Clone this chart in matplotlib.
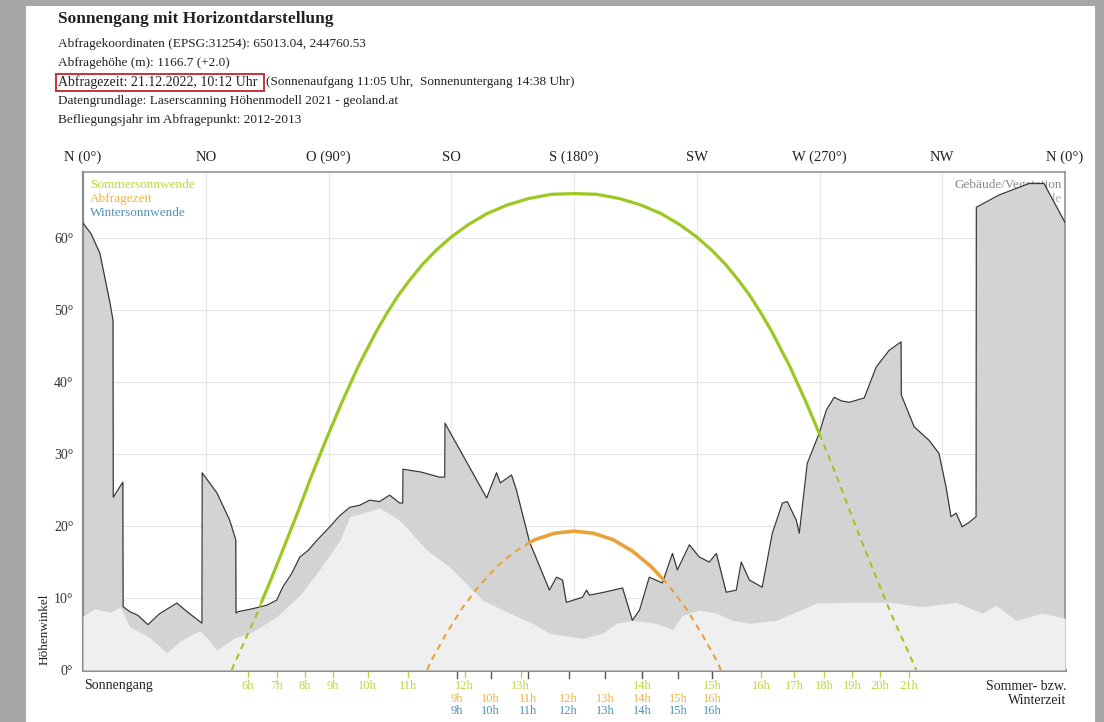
import matplotlib
matplotlib.use('Agg')
import matplotlib.pyplot as plt
from matplotlib.patches import Rectangle
import numpy as np

plt.rcParams['font.family'] = ['Liberation Serif', 'DejaVu Serif']

# --- data (azimuth in degrees, altitude in degrees) ---
dir_labels = ['N (0°)', 'NO', 'O (90°)', 'SO', 'S (180°)', 'SW', 'W (270°)', 'NW', 'N (0°)']

# Gebaeude/Vegetation (outlined, darker)
dark_az = [0, 3.0, 6.2, 9.9, 11.0, 11.1, 14.6, 14.7, 17.2, 20.1, 23.8, 28.0, 34.4, 38.5, 43.6,
           43.7, 49.1, 53.8, 56.0, 56.1, 56.8, 62.0, 67.4, 71.0, 73.2, 76.5, 79.5, 82.5, 85.7,
           90.5, 94.0, 97.8, 101.5, 105.1, 108.7, 112.4, 116.1, 117.2, 117.3, 124.0, 130.7,
           132.6, 132.7, 148.0, 149.1, 151.6, 153.0, 154.5, 157.1, 158.9, 163.7, 171.0,
           173.6, 175.8, 177.2, 183.1, 184.6, 185.7, 191.0, 197.8, 201.4, 204.0, 207.6,
           212.4, 216.1, 217.9, 222.3, 225.9, 229.6, 232.2, 235.8, 239.5, 241.3, 244.3,
           249.0, 252.7, 256.4, 258.2, 261.5, 262.6, 265.5, 269.9, 272.5, 275.4, 278.0,
           280.9, 286.4, 290.8, 295.5, 299.9, 300.0, 304.7, 310.2, 313.8, 316.4, 318.2,
           320.1, 322.3, 324.8, 327.4, 327.5, 335.8, 346.8, 352.3, 360]
dark_alt = [62.1, 60.6, 57.9, 51.0, 48.6, 24.0, 26.1, 8.8, 8.1, 7.6, 6.3, 7.8, 9.3, 8.0, 6.5,
            27.4, 24.6, 20.8, 18.1, 7.9, 8.1, 8.5, 9.0, 9.7, 11.5, 13.4, 15.7, 16.6, 18.0,
            19.9, 21.4, 22.6, 22.9, 23.6, 23.4, 24.3, 23.2, 23.2, 27.9, 27.5, 26.8,
            26.8, 34.3, 23.9, 25.0, 27.4, 26.0, 26.4, 27.1, 25.0, 17.8, 11.1,
            12.9, 12.5, 9.4, 10.1, 11.1, 10.4, 10.8, 11.4, 6.9, 8.3, 12.9,
            12.1, 16.2, 13.9, 17.4, 15.7, 15.0, 16.2, 10.8, 11.1, 15.0, 12.5,
            11.5, 19.0, 23.2, 23.4, 20.8, 19.0, 28.7, 32.9, 36.1, 37.9, 37.4,
            37.2, 37.8, 42.1, 44.4, 45.6, 38.2, 33.8, 31.9, 30.1, 25.4, 21.3,
            21.8, 19.9, 20.5, 21.3, 64.3, 66.0, 67.6, 67.6, 62.2]

# Gelaende (light)
light_az = [0, 4.4, 9.9, 13.6, 17.2, 24.5, 30.8, 35.5, 42.8, 46.5, 49.1, 55.7, 61.2, 71.0,
            79.5, 86.8, 94.1, 97.8, 108.8, 116.1, 126.0, 134.4, 146.5, 156.4, 164.8, 171.0,
            183.1, 190.4, 195.6, 201.4, 210.2, 216.1, 219.7, 226.0, 232.2, 238.0, 244.3,
            254.2, 268.8, 280.9, 295.5, 307.6, 320.1, 329.6, 334.7, 342.0, 351.6, 360]
light_alt = [7.5, 8.5, 8.0, 8.8, 6.0, 4.5, 2.4, 4.0, 5.5, 4.0, 2.8, 4.5, 5.1, 7.4,
             10.4, 14.0, 18.0, 21.3, 22.5, 20.8, 16.7, 14.3, 9.7, 7.9, 6.5, 5.1,
             4.4, 5.1, 6.5, 6.9, 6.5, 5.6, 7.6, 8.3, 7.9, 6.9, 6.5,
             6.9, 9.3, 9.4, 9.4, 8.8, 9.4, 7.9, 9.0, 6.9, 7.9, 7.2]

# sun paths
summer_az = [54.5, 58.4, 63.4, 65.5, 68.5, 73.6, 78.7, 83.8, 89.1, 94.8, 100.9, 107.6, 111.3,
             115.3, 119.6, 124.3, 129.4, 135.1, 141.3, 148.0, 155.4, 163.2, 171.7, 180.0,
             188.3, 196.8, 204.6, 212.0, 218.7, 224.9, 230.6, 235.7, 240.4, 244.7, 248.7,
             252.4, 259.1, 265.2, 270.0, 270.9, 276.2, 281.3, 286.4, 291.5, 296.6, 301.6, 305.5]
summer_alt = [0, 3.3, 7.5, 9.5, 12.2, 17.0, 21.9, 27.0, 32.0, 37.1, 42.2, 47.1, 49.5,
              51.9, 54.1, 56.3, 58.3, 60.2, 61.9, 63.4, 64.6, 65.5, 66.1, 66.2,
              66.1, 65.5, 64.6, 63.4, 61.9, 60.2, 58.3, 56.3, 54.1, 51.9, 49.5,
              47.1, 42.2, 37.1, 32.8, 32.0, 27.0, 21.9, 17.0, 12.2, 7.5, 3.3, 0]
summer_visible = (65.5, 270.0)

query_az = [126.2, 127.4, 133.1, 139.0, 145.2, 151.8, 158.5, 163.7, 165.6, 172.8, 180.0,
            187.2, 194.4, 201.5, 208.2, 212.4, 214.8, 221.0, 226.9, 232.6, 233.8]
query_alt = [0, 1.1, 5.0, 8.6, 11.7, 14.4, 16.5, 17.7, 18.1, 19.0, 19.3,
             19.0, 18.1, 16.5, 14.4, 12.7, 11.7, 8.6, 5.0, 1.1, 0]
query_visible = (163.7, 212.4)

summer_hours = ['6h', '7h', '8h', '9h', '10h', '11h', '12h', '13h', '14h', '15h', '16h',
                '17h', '18h', '19h', '20h', '21h']
summer_hour_az = [60.4, 71.0, 81.3, 91.6, 104.4, 119.0, 139.9, 160.4, 205.1, 230.7, 248.7,
                  260.7, 271.7, 282.0, 292.2, 302.9]
winter_hours = ['9h', '10h', '11h', '12h', '13h', '14h', '15h', '16h']
winter_hour_az = [137.0, 149.4, 163.3, 178.0, 191.5, 205.1, 218.3, 230.7]

# colours
green = '#9cc823'
green_txt = '#c2d43c'
orange = '#e9a23a'
orange_txt = '#f0b444'
blue_txt = '#4f93b2'

W, H = 1104, 722
fig = plt.figure(figsize=(W / 100, H / 100), dpi=100, facecolor='#a7a7a7')
fig.patches.append(Rectangle((26 / W, 0), (1095 - 26) / W, (H - 6) / H,
                             transform=fig.transFigure, facecolor='white',
                             edgecolor='none', zorder=-10))


def fx(px):
    return px / W


def fy(py):
    return 1 - py / H


# header
fig.text(fx(58), fy(19), 'Sonnengang mit Horizontdarstellung', fontsize=12.5,
         fontweight='bold', color='#222222', va='center')
info = ['Abfragekoordinaten (EPSG:31254): 65013.04, 244760.53',
        'Abfragehöhe (m): 1166.7 (+2.0)',
        None,
        'Datengrundlage: Laserscanning Höhenmodell 2021 - geoland.at',
        'Befliegungsjahr im Abfragepunkt: 2012-2013']
for i, line in enumerate(info):
    if line:
        fig.text(fx(58), fy(44 + 19 * i), line, fontsize=9.5, color='#222222', va='center')
fig.text(fx(58), fy(82), 'Abfragezeit: 21.12.2022, 10:12 Uhr', fontsize=10, color='#222222',
         va='center')
fig.patches.append(Rectangle((fx(56), fy(91)), (264 - 56) / W, 17 / H,
                             transform=fig.transFigure, facecolor='none',
                             edgecolor='#c8323c', lw=1.4))
fig.text(fx(266), fy(82), '(Sonnenaufgang 11:05 Uhr,  Sonnenuntergang 14:38 Uhr)',
         fontsize=9.5, color='#222222', va='center')

ax = fig.add_axes([fx(83), 1 - 670 / H, (1065 - 83) / W, (670 - 172) / H])
ax.set_xlim(0, 360)
ax.set_ylim(0, 69.2)

ax.set_xticks(np.arange(0, 361, 45))
ax.set_xticklabels(dir_labels, fontsize=10.5, color='#222222')
ax.xaxis.tick_top()
ax.set_yticks(range(0, 61, 10))
ax.set_yticklabels([f'{v}°' for v in range(0, 61, 10)], fontsize=10, color='#333333')
ax.tick_params(axis='x', length=0, pad=6)
ax.tick_params(axis='y', length=0, pad=7)
ax.grid(color='#e8e8e8', lw=0.9)
ax.set_axisbelow(True)
for side in ['top', 'right']:
    ax.spines[side].set_color('#8c8c8c')
    ax.spines[side].set_linewidth(1.1)
ax.spines['left'].set_color('#8c8c8c')
ax.spines['left'].set_linewidth(1.6)
ax.spines['bottom'].set_color('#8c8c8c')
ax.spines['bottom'].set_linewidth(2.2)

# legend texts (drawn below the terrain)
ax.text(0.007, 0.974, 'Sommersonnwende', transform=ax.transAxes, color=green_txt,
        fontsize=9.5, va='center', zorder=1)
ax.text(0.007, 0.946, 'Abfragezeit', transform=ax.transAxes, color=orange_txt,
        fontsize=9.5, va='center', zorder=1)
ax.text(0.007, 0.918, 'Wintersonnwende', transform=ax.transAxes, color=blue_txt,
        fontsize=9.5, va='center', zorder=1)
ax.text(0.997, 0.974, 'Gebäude/Vegetation', transform=ax.transAxes, color='#8a8a8a',
        fontsize=9.5, va='center', ha='right', zorder=1)
ax.text(0.997, 0.946, 'Gelände', transform=ax.transAxes, color='#b0b0b0',
        fontsize=9.5, va='center', ha='right', zorder=1)

# terrain
ax.fill_between(dark_az, 0, dark_alt, color='#d3d3d3', lw=0, zorder=2)
ax.fill_between(light_az, 0, light_alt, color='#efefef', lw=0, zorder=3)
ax.plot(dark_az, dark_alt, color='#3a3a3a', lw=0.9, zorder=4)

# sun paths: dashed where hidden, solid where visible
s_az = np.array(summer_az)
s_alt = np.array(summer_alt)
lo = s_az <= summer_visible[0]
hi = s_az >= summer_visible[1]
mid = (s_az >= summer_visible[0]) & (s_az <= summer_visible[1])
ax.plot(s_az[lo], s_alt[lo], color=green, lw=1.5, ls=(0, (3, 2.5)), zorder=5)
ax.plot(s_az[hi], s_alt[hi], color=green, lw=1.5, ls=(0, (3, 2.5)), zorder=5)
ax.plot(s_az[mid], s_alt[mid], color=green, lw=2.3, zorder=5, solid_capstyle='round')

q_az = np.array(query_az)
q_alt = np.array(query_alt)
lo = q_az <= query_visible[0]
hi = q_az >= query_visible[1]
mid = (q_az >= query_visible[0]) & (q_az <= query_visible[1])
ax.plot(q_az[lo], q_alt[lo], color=orange, lw=1.5, ls=(0, (3, 2.5)), zorder=5)
ax.plot(q_az[hi], q_alt[hi], color=orange, lw=1.5, ls=(0, (3, 2.5)), zorder=5)
ax.plot(q_az[mid], q_alt[mid], color=orange, lw=2.6, zorder=5, solid_capstyle='round')

# hour marks and labels under the axis
trans = ax.get_xaxis_transform()
for az, lab in zip(summer_hour_az, summer_hours):
    ax.plot([az, az], [-0.004, -0.014], transform=trans, clip_on=False, color=green_txt, lw=1)
    ax.text(az, -0.032, lab, transform=trans, ha='center', va='center', fontsize=9,
            color=green_txt)
for az, lab in zip(winter_hour_az, winter_hours):
    ax.plot([az, az], [0, -0.016], transform=trans, clip_on=False, color='#555555', lw=1)
    ax.text(az, -0.058, lab, transform=trans, ha='center', va='center', fontsize=9,
            color=orange_txt)
    ax.text(az, -0.083, lab, transform=trans, ha='center', va='center', fontsize=9,
            color=blue_txt)

fig.text(fx(84), fy(686), 'Sonnengang', fontsize=10, color='#222222', va='center')
fig.text(fx(1066), fy(686), 'Sommer- bzw.', fontsize=10, color='#222222', va='center', ha='right')
fig.text(fx(1066), fy(700), 'Winterzeit', fontsize=10, color='#222222', va='center', ha='right')
fig.text(fx(45), fy(629), 'Höhenwinkel', fontsize=9.5, color='#222222', va='center',
         ha='center', rotation=90)

fig.savefig('out.png', dpi=100, facecolor=fig.get_facecolor())
